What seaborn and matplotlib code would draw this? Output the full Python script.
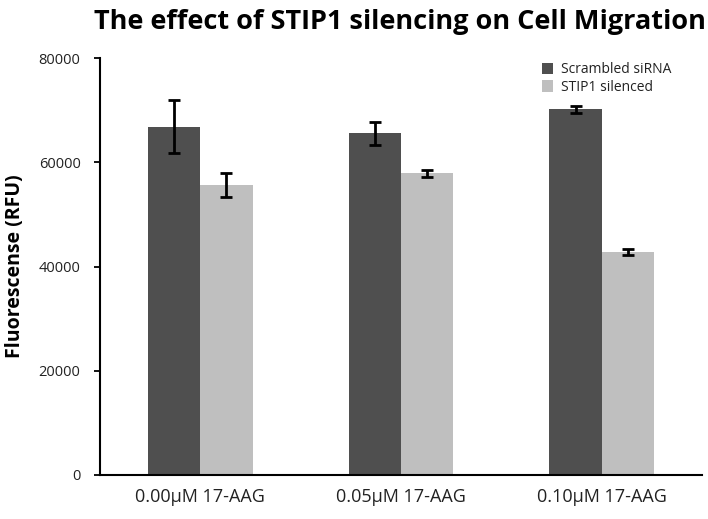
import matplotlib
matplotlib.use("Agg")
import matplotlib.pyplot as plt
import seaborn as sns
import pandas as pd
import numpy as np

categories = ["0.00\u00b5M 17-AAG", "0.05\u00b5M 17-AAG", "0.10\u00b5M 17-AAG"]
series_names = ["Scrambled siRNA", "STIP1 silenced"]
scrambled = [66900, 65600, 70200]
silenced = [55700, 57900, 42800]
scrambled_err = [5100, 2150, 650]
silenced_err = [2300, 740, 500]
y_ticks = [0, 20000, 40000, 60000, 80000]

sns.set_theme(style="white")
plt.rcParams['font.family'] = ['Open Sans', 'DejaVu Sans']

df = pd.DataFrame({
    "cat": categories * 2,
    "series": [series_names[0]] * 3 + [series_names[1]] * 3,
    "val": scrambled + silenced,
    "err": scrambled_err + silenced_err,
})

fig = plt.figure(figsize=(7.08, 5.19), dpi=100)
ax = fig.add_axes([100/708, 1 - 475/519, 602/708, (475 - 58.3)/519])

palette = {series_names[0]: "#4f4f4f", series_names[1]: "#bfbfbf"}
sns.barplot(data=df, x="cat", y="val", hue="series", palette=palette,
            width=0.52, order=categories, hue_order=series_names,
            saturation=1, errorbar=None, ax=ax, edgecolor="none", linewidth=0)

# error bars at bar centers (from patches)
for cont, errs, vals in zip(ax.containers, [scrambled_err, silenced_err], [scrambled, silenced]):
    xs = [p.get_x() + p.get_width() / 2 for p in cont.patches]
    ax.errorbar(xs, vals, yerr=errs, fmt="none", ecolor="black",
                elinewidth=2, capsize=4, capthick=2, zorder=5)

ax.set_xlim(-0.5, 2.5)
ax.set_ylim(0, 80000)
ax.set_yticks(y_ticks)
ax.set_yticklabels([str(t) for t in y_ticks], fontsize=10.5, color="#222222")
ax.set_xticks([0, 1, 2])
ax.set_xticklabels(categories, fontsize=13, color="#222222")
ax.tick_params(axis="x", which="major", length=0, pad=9)
ax.set_xticks([-0.5, 0.5, 1.5, 2.5], minor=True)
ax.tick_params(axis="x", which="minor", length=5, width=1.3, direction="out", color="black")
ax.tick_params(axis="y", which="major", length=4, width=1.3, direction="out", color="black", left=True, pad=10)

for s in ["top", "right"]:
    ax.spines[s].set_visible(False)
for s in ["left", "bottom"]:
    ax.spines[s].set_color("black")
    ax.spines[s].set_linewidth(1.5)

ax.set_xlabel("")
ax.set_ylabel("Fluorescense (RFU)", fontsize=14, fontweight="bold", labelpad=10, color="black")

fig.suptitle("The effect of STIP1 silencing on Cell Migration", x=0.565, y=0.982,
             fontsize=19.5, fontweight="bold", color="black")

leg = ax.legend(loc="upper right", bbox_to_anchor=(0.97, 1.02), frameon=False,
                fontsize=10, handlelength=0.8, handleheight=0.9, handletextpad=0.6,
                labelspacing=0.15)
for t in leg.get_texts():
    t.set_color("#222222")

fig.savefig("out.png", dpi=100)
